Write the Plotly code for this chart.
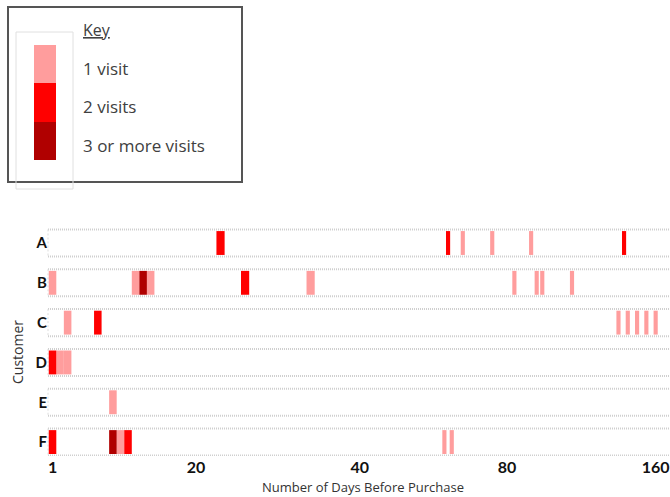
import numpy as np
import plotly.graph_objects as go

# ---------------- data ----------------
customers = ["A", "B", "C", "D", "E", "F"]

A_days = [23, 64, 68, 76, 93, 143]
A_visits = [2, 2, 1, 1, 1, 2]
B_days = [1, 12, 13, 14, 26, 34, 84, 96, 99, 115]
B_visits = [1, 1, 3, 1, 2, 1, 1, 1, 1, 1]
C_days = [3, 7, 140, 145, 150, 155, 160]
C_visits = [1, 2, 1, 1, 1, 1, 1]
D_days = [1, 2, 3]
D_visits = [2, 1, 1]
E_days = [9]
E_visits = [1]
F_days = [1, 9, 10, 11, 63, 65]
F_visits = [2, 3, 1, 2, 1, 1]

tick_days = [1, 20, 40, 80, 160]
tick_labels = ["1", "20", "40", "80", "160"]

level_names = ["1 visit", "2 visits", "3 or more visits"]

# ---------------- styles ----------------
level_colors = ["#FF9D9D", "#FF0000", "#B00000"]
W, H = 670, 497
FONT = "Lato"
TFONT = "Open Sans"

# the axis is piecewise linear between the labelled days
axis_pos = [0, 19, 40.7, 60.2, 79.9]


def day_to_pos(d):
    d = np.asarray(d, dtype=float)
    p = np.interp(d, tick_days, axis_pos)
    s0 = (axis_pos[1] - axis_pos[0]) / (tick_days[1] - tick_days[0])
    s1 = (axis_pos[-1] - axis_pos[-2]) / (tick_days[-1] - tick_days[-2])
    p = np.where(d < tick_days[0], axis_pos[0] + (d - tick_days[0]) * s0, p)
    p = np.where(d > tick_days[-1], axis_pos[-1] + (d - tick_days[-1]) * s1, p)
    return p


all_days = [A_days, B_days, C_days, D_days, E_days, F_days]
all_visits = [A_visits, B_visits, C_visits, D_visits, E_visits, F_visits]

MIN_W = 0.55
fig = go.Figure()
for lvl in range(3):
    ys, bases, widths = [], [], []
    for ci, (days, visits) in enumerate(zip(all_days, all_visits)):
        for d, v in zip(days, visits):
            if min(v, 3) - 1 != lvl:
                continue
            x0 = float(day_to_pos(d - 0.5))
            x1 = float(day_to_pos(d + 0.5))
            w = x1 - x0
            if w < MIN_W:
                c = (x0 + x1) / 2
                x0, w = c - MIN_W / 2, MIN_W
            ys.append(ci)
            bases.append(x0)
            widths.append(w)
    fig.add_trace(go.Bar(
        y=ys, x=widths, base=bases, orientation="h",
        width=0.6, marker=dict(color=level_colors[lvl], line=dict(width=0)),
        name=level_names[lvl], showlegend=False,
    ))


def px(x):
    return x / W


def py(y):
    return 1 - y / H


shapes = []
# dotted row bands
for i in range(len(customers)):
    for off in (-0.34, 0.34):
        shapes.append(dict(type="line", xref="paper", yref="y",
                           x0=px(48), x1=1, y0=i + off, y1=i + off,
                           line=dict(color="#CFCFCF", width=2, dash="1px,1px"),
                           layer="below"))
    shapes.append(dict(type="line", xref="paper", yref="y",
                       x0=px(48), x1=px(48), y0=i - 0.34, y1=i + 0.34,
                       line=dict(color="#DDDDDD", width=1, dash="2px,2px"),
                       layer="below"))

# legend box
shapes.append(dict(type="rect", xref="paper", yref="paper",
                   x0=px(8), x1=px(242), y0=py(182), y1=py(7),
                   line=dict(color="#555555", width=2), fillcolor="white"))
shapes.append(dict(type="rect", xref="paper", yref="paper",
                   x0=px(16), x1=px(73), y0=py(189), y1=py(32),
                   line=dict(color="#E0E0E0", width=1)))
sw_tops = [45, 83, 122]
sw_bots = [83, 122, 160]
for lvl in range(3):
    shapes.append(dict(type="rect", xref="paper", yref="paper",
                       x0=px(34), x1=px(56), y0=py(sw_bots[lvl]), y1=py(sw_tops[lvl]),
                       line=dict(width=0), fillcolor=level_colors[lvl]))

annotations = [
    dict(text="<u>Key</u>", x=px(81), y=py(30), xref="paper", yref="paper",
         xanchor="left", yanchor="middle", showarrow=False,
         font=dict(family=TFONT, size=16, color="#404040")),
]
label_y = [68, 107, 146]
for lvl in range(3):
    annotations.append(dict(text=level_names[lvl], x=px(81), y=py(label_y[lvl]),
                            xref="paper", yref="paper", xanchor="left",
                            yanchor="middle", showarrow=False,
                            font=dict(family=TFONT, size=17, color="#404040")))
annotations.append(dict(text="Number of Days Before Purchase", x=px(363), y=py(487),
                        xref="paper", yref="paper", xanchor="center",
                        yanchor="middle", showarrow=False,
                        font=dict(family=TFONT, size=13, color="#333333")))
annotations.append(dict(text="Customer", x=px(17), y=py(352), textangle=-90,
                        xref="paper", yref="paper", xanchor="center",
                        yanchor="middle", showarrow=False,
                        font=dict(family=TFONT, size=14, color="#333333")))

fig.update_layout(
    width=W, height=H,
    margin=dict(l=0, r=0, t=0, b=0),
    paper_bgcolor="white", plot_bgcolor="white",
    barmode="overlay",
    shapes=shapes, annotations=annotations,
    xaxis=dict(domain=[px(48), 1], range=[-0.6, 81.8],
               tickmode="array", tickvals=[float(v) for v in day_to_pos(tick_days)],
               ticktext=tick_labels, showgrid=False, zeroline=False,
               showline=False, ticks="", fixedrange=True,
               tickfont=dict(family=FONT, size=16, color="#111111", weight="bold")),
    yaxis=dict(domain=[py(456), py(220)], range=[5.35, -0.578],
               tickmode="array", tickvals=list(range(len(customers))),
               ticktext=customers, showgrid=False, zeroline=False,
               showline=False, ticks="", fixedrange=True,
               tickfont=dict(family=FONT, size=15, color="#111111", weight="bold")),
)

fig.write_html("out.html", config={"displayModeBar": False},
               post_script="document.body.style.margin='0';document.body.style.overflow='hidden';")
